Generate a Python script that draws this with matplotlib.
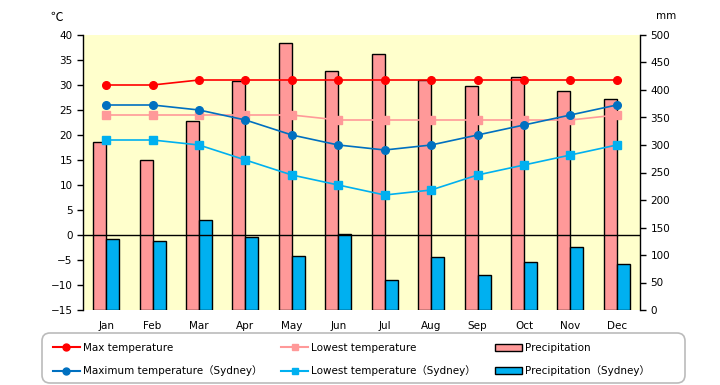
import numpy as np
import matplotlib
matplotlib.use("Agg")
import matplotlib.pyplot as plt
from matplotlib.lines import Line2D
from matplotlib.patches import Patch, FancyBboxPatch

plt.rcParams['font.family'] = ['DejaVu Sans', 'Noto Sans CJK JP']
plt.rcParams['font.size'] = 7.5

# データ
months = ['Jan', 'Feb', 'Mar', 'Apr', 'May', 'Jun', 'Jul', 'Aug', 'Sep', 'Oct', 'Nov', 'Dec']
max_temp = [30, 30, 31, 31, 31, 31, 31, 31, 31, 31, 31, 31]
low_temp = [24, 24, 24, 24, 24, 23, 23, 23, 23, 23, 23, 24]
precip = [305, 272, 343, 416, 485, 434, 465, 419, 407, 423, 399, 384]
max_syd = [26, 26, 25, 23, 20, 18, 17, 18, 20, 22, 24, 26]
low_syd = [19, 19, 18, 15, 12, 10, 8, 9, 12, 14, 16, 18]
precip_syd = [130, 125, 164, 132, 99, 139, 54, 97, 63, 87, 114, 83]

x = np.arange(len(months))
bw = 0.28

fig = plt.figure(figsize=(7.2, 3.85), dpi=100)
ax = fig.add_axes([83/720, 1 - 310/385, 557/720, 275/385])
ax2 = ax.twinx()

# 背景と棒グラフ (右軸 mm)
ax2.patch.set_facecolor('#FFFFCC')
ax2.patch.set_visible(True)
ax.set_zorder(ax2.get_zorder() + 1)
ax.patch.set_visible(False)

ax2.bar(x - bw/2, precip, bw, color='#FF9999', edgecolor='black', linewidth=1)
ax2.bar(x + bw/2, precip_syd, bw, color='#00B0F0', edgecolor='black', linewidth=1)
ax2.set_ylim(0, 500)
ax2.set_yticks(np.arange(0, 501, 50))

# 折れ線 (左軸 ℃)
ax.axhline(0, color='black', linewidth=1)
ax.plot(x, max_temp, color='#FF0000', marker='o', markersize=5.5, linewidth=1.2)
ax.plot(x, low_temp, color='#FF9999', marker='s', markersize=5.5, linewidth=1.2)
ax.plot(x, max_syd, color='#0070C0', marker='o', markersize=5.5, linewidth=1.2)
ax.plot(x, low_syd, color='#00B0F0', marker='s', markersize=5.5, linewidth=1.2)
ax.set_ylim(-15, 40)
ax.set_yticks(np.arange(-15, 41, 5))
ax.set_xlim(-0.5, 11.5)
ax.set_xticks(x)
ax.set_xticklabels(months)

for a in (ax, ax2):
    a.spines['top'].set_visible(False)
    a.spines['bottom'].set_visible(False)
    a.tick_params(axis='x', length=0, pad=8)
    a.tick_params(axis='y', length=4, width=1)
ax.spines['right'].set_visible(False)
ax2.spines['left'].set_visible(False)
ax2.spines['right'].set_linewidth(1)
ax.spines['left'].set_linewidth(1)

fig.text(57/720, 1 - 17/385, '℃', ha='center', va='center', fontsize=9, family=['Noto Sans CJK JP'])
fig.text(666/720, 1 - 16/385, 'mm', ha='center', va='center')

# 凡例の枠
frame = FancyBboxPatch((42, 2), 643, 50, boxstyle='round,pad=0,rounding_size=8',
                       facecolor='white', edgecolor='#BBBBBB', linewidth=1.2,
                       transform=None)
fig.add_artist(frame)

# 凡例
handles = [
    Line2D([], [], color='#FF0000', marker='o', markersize=5),
    Line2D([], [], color='#0070C0', marker='o', markersize=5),
    Line2D([], [], color='#FF9999', marker='s', markersize=5),
    Line2D([], [], color='#00B0F0', marker='s', markersize=5),
    Patch(facecolor='#FF9999', edgecolor='black'),
    Patch(facecolor='#00B0F0', edgecolor='black'),
]
labels = ['Max temperature', 'Maximum temperature（Sydney）',
          'Lowest temperature', 'Lowest temperature（Sydney）',
          'Precipitation', 'Precipitation（Sydney）']
leg = fig.legend(handles, labels, ncol=3, loc='upper left',
                 bbox_to_anchor=(44/720, 1 - 334/385), frameon=False,
                 handlelength=2.6, handletextpad=0.3, labelspacing=1.2,
                 columnspacing=1.8, borderaxespad=0, borderpad=0.85)

fig.savefig('out.png', dpi=100)
